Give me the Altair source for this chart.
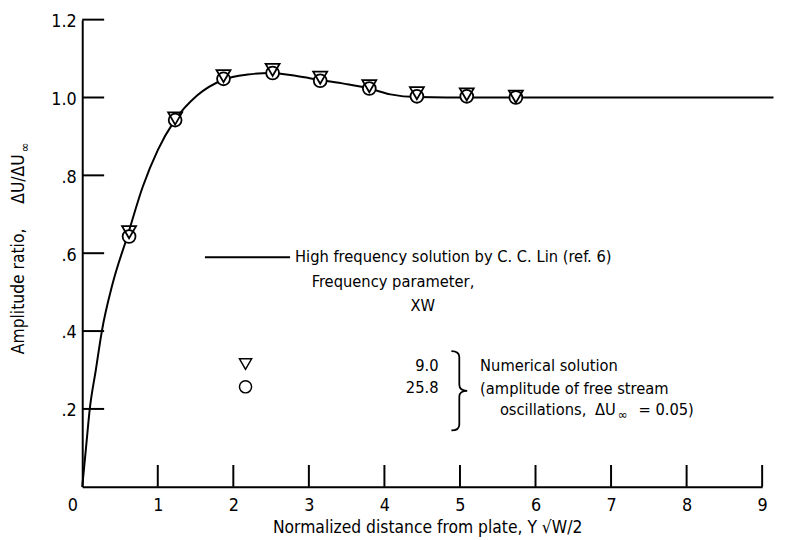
import altair as alt
import pandas as pd

# High frequency solution by C. C. Lin
curve_x = [0.0, 0.05, 0.10, 0.18, 0.26, 0.40, 0.60, 0.80, 1.00, 1.22, 1.52, 1.86,
           2.19, 2.50, 2.84, 3.15, 3.48, 3.80, 4.08, 4.43, 5.00, 6.00, 7.00, 8.00, 9.00, 9.15]
curve_y = [0.00, 0.10, 0.20, 0.30, 0.40, 0.52, 0.645, 0.77, 0.865, 0.940, 1.005, 1.045,
           1.059, 1.063, 1.055, 1.045, 1.035, 1.023, 1.008, 1.001, 1.000, 1.000, 1.000, 1.000, 1.000, 1.000]

# Numerical solution points
pts_x = [0.62, 1.23, 1.87, 2.52, 3.15, 3.80, 4.43, 5.09, 5.74]
tri_y = [0.654, 0.946, 1.055, 1.071, 1.051, 1.029, 1.011, 1.008, 1.002]   # XW = 9.0
cir_y = [0.643, 0.942, 1.048, 1.063, 1.043, 1.023, 1.003, 1.003, 1.000]   # XW = 25.8

x_ticks = [1, 2, 3, 4, 5, 6, 7, 8, 9]
x_labels = [0, 1, 2, 3, 4, 5, 6, 7, 8, 9]
y_ticks = [0.2, 0.4, 0.6, 0.8, 1.0, 1.2]

FONT = "Liberation Sans Narrow, DejaVu Sans Condensed, Roboto Condensed, Roboto, sans-serif"
FS = 16.5
TS = 17.5

curve_df = pd.DataFrame({"x": curve_x, "y": curve_y})
tri_df = pd.DataFrame({"x": pts_x, "y": tri_y})
cir_df = pd.DataFrame({"x": pts_x, "y": cir_y})
xt_df = pd.DataFrame({"x": x_ticks, "y0": [0.0] * len(x_ticks), "y1": [0.056] * len(x_ticks)})
yt_df = pd.DataFrame({"y": y_ticks, "x0": [0.0] * len(y_ticks), "x1": [0.29] * len(y_ticks)})

xs = alt.Scale(domain=[0, 9], nice=False, zero=False)
ys = alt.Scale(domain=[0, 1.2], nice=False, zero=False)

x_axis = alt.Axis(values=x_labels, title=None, ticks=False, grid=False, format="d",
                  labelPadding=19, labelBaseline="middle", labelFontSize=18, labelFlush=False,
                  labelOffset={"condition": {"test": "datum.value == 0", "value": -10}, "value": 0},
                  domainWidth=2, domainColor="black")
y_axis = alt.Axis(values=y_ticks, title=None, ticks=False, grid=False,
                  labelPadding=6, labelBaseline="middle", labelFontSize=18, labelFlush=False,
                  labelOffset=2,
                  labelExpr="datum.value >= 1 ? format(datum.value, '.1f') : replace(format(datum.value, '.1f'), '0.', '.')",
                  domainWidth=2, domainColor="black")

base_line = alt.Chart(curve_df).mark_line(color="black", strokeWidth=2, interpolate="monotone").encode(
    x=alt.X("x:Q", scale=xs, axis=x_axis),
    y=alt.Y("y:Q", scale=ys, axis=y_axis),
)

circles = alt.Chart(cir_df).mark_point(shape="circle", size=169, filled=True, fill="white",
                                       stroke="black", strokeWidth=1.8, opacity=1).encode(
    x=alt.X("x:Q", scale=xs), y=alt.Y("y:Q", scale=ys))
tris = alt.Chart(tri_df).mark_point(shape="triangle-down", size=200, filled=False,
                                    stroke="black", strokeWidth=1.8, opacity=1).encode(
    x=alt.X("x:Q", scale=xs), y=alt.Y("y:Q", scale=ys))

xticks = alt.Chart(xt_df).mark_rule(color="black", strokeWidth=2).encode(
    x=alt.X("x:Q", scale=xs), y=alt.Y("y0:Q", scale=ys), y2="y1:Q")
yticks = alt.Chart(yt_df).mark_rule(color="black", strokeWidth=2).encode(
    y=alt.Y("y:Q", scale=ys), x=alt.X("x0:Q", scale=xs), x2="x1:Q")


def txt(s, x, y, align="left", size=FS, angle=0, baseline="middle"):
    return alt.Chart(pd.DataFrame({"t": [s]})).mark_text(
        align=align, baseline=baseline, font=FONT, fontSize=size, color="black", angle=angle
    ).encode(text="t:N", x=alt.value(x), y=alt.value(y))


# Legend line
leg_line = alt.Chart(pd.DataFrame({"a": [0]})).mark_rule(color="black", strokeWidth=2).encode(
    x=alt.value(124), x2=alt.value(210), y=alt.value(240))

leg_tri = alt.Chart(pd.DataFrame({"a": [0]})).mark_point(
    shape="triangle-down", size=150, filled=False, stroke="black", strokeWidth=1.5, opacity=1
).encode(x=alt.value(165), y=alt.value(348))
leg_cir = alt.Chart(pd.DataFrame({"a": [0]})).mark_point(
    shape="circle", size=150, filled=False, stroke="black", strokeWidth=1.5, opacity=1
).encode(x=alt.value(165), y=alt.value(371))

brace_path = "M -0.2,-1 Q 0,-1 0,-0.85 L 0,-0.15 Q 0,0 0.2,0 Q 0,0 0,0.15 L 0,0.85 Q 0,1 -0.2,1"
brace = alt.Chart(pd.DataFrame({"a": [0]})).mark_point(
    shape=brace_path, size=6400, filled=False, stroke="black", strokeWidth=1.8, opacity=1
).encode(x=alt.value(381), y=alt.value(375))

texts = [
    txt("High frequency solution by C. C. Lin (ref. 6)", 215, 240),
    txt("Frequency parameter,", 314, 265, align="center"),
    txt("XW", 344, 289, align="center"),
    txt("9.0", 360, 350, align="right"),
    txt("25.8", 360, 372, align="right"),
    txt("Numerical solution", 402, 350),
    txt("(amplitude of free stream", 402, 373),
    txt("oscillations,", 422, 394),
    txt("\u0394U", 518, 394),
    txt("\u221e", 541, 400, size=13),
    txt("= 0.05)", 562, 394),
    txt("Amplitude ratio,", -64, 338, angle=270, size=TS),
    txt("\u0394U/\u0394U", -64, 186, angle=270, size=TS),
    txt("\u221e", -58, 129, size=13, angle=270, align="center"),
    txt("Normalized distance from plate,  Y \u221aW/2", 349, 514, align="center", size=TS),
]

chart = alt.layer(base_line, xticks, yticks, circles, tris, leg_line, leg_tri, leg_cir, brace, *texts).properties(
    width=687, height=472,
    autosize=alt.AutoSizeParams(type="none"),
    padding={"left": 75, "top": 9, "right": 15, "bottom": 50},
).configure_view(stroke=None).configure_axis(
    labelFont=FONT, labelColor="black"
)

chart.save("out.html", embed_options={"renderer": "svg", "actions": False})
